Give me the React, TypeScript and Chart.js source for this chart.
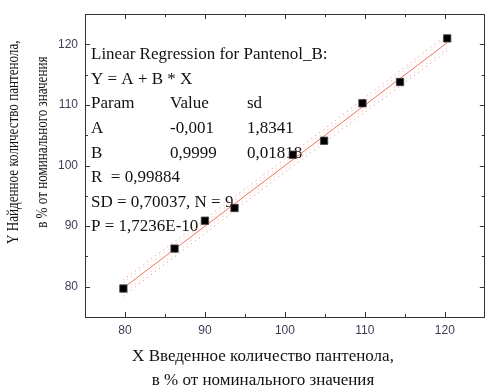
import { useEffect, useRef } from "react";
import { Chart, registerables } from "chart.js";

Chart.register(...registerables);

// Measured pairs: injected vs. found panthenol, % of nominal
const injected = [79.8, 86.2, 90.0, 93.7, 101.0, 104.9, 109.7, 114.4, 120.3];
const found = [79.7, 86.3, 90.9, 93.0, 101.8, 104.1, 110.3, 113.8, 121.0];

// Regression coefficients Y = A + B * X
const interceptA = -0.001;
const slopeB = 0.9999;

// Dotted band curves around the fit
const bandX = [79.8, 90, 100, 110, 120.3];
const innerUpper = [80.7, 90.65, 100.55, 110.65, 121.2];
const innerLower = [78.9, 89.35, 99.45, 109.35, 119.4];
const outerUpper = [81.15, 91.2, 101.1, 111.2, 121.65];
const outerLower = [78.45, 88.8, 98.9, 108.8, 118.95];

// Axes
const axisMin = 75;
const axisMax = 125;
const majorTicks = [80, 90, 100, 110, 120];
const minorTicks = [85, 95, 105, 115];

// Regression report printed inside the plot
const reportRows = [
  ["Linear Regression for Pantenol_B:"],
  ["Y = A + B * X"],
  ["Param", "Value", "sd"],
  ["A", "-0,001", "1,8341"],
  ["B", "0,9999", "0,01818"],
  ["R  = 0,99884"],
  ["SD = 0,70037, N = 9"],
  ["P = 1,7236E-10"],
];

const xTitle = ["X Введенное количество пантенола,", "в % от номинального значения"];
const yTitle = ["Y Найденное количество пантенола,", "в % от номинального значения"];

const serif = '"Liberation Serif", "Times New Roman", serif';
const sans = '"Liberation Sans", Arial, sans-serif';

const toPoints = (xs: number[], ys: number[]) => xs.map((x, i) => ({ x, y: ys[i] }));

const frameAndText = {
  id: "frameAndText",
  beforeDatasetsDraw(chart: any) {
    const { ctx, chartArea } = chart;
    const { left, top } = chartArea;
    ctx.save();
    ctx.fillStyle = "#111";
    ctx.font = `17px ${serif}`;
    ctx.textBaseline = "middle";
    ctx.textAlign = "left";
    const cols = [6, 85, 162];
    reportRows.forEach((row, i) => {
      const y = top + 40.5 + i * 24.6;
      row.forEach((cell, j) => ctx.fillText(cell, left + cols[j], y));
    });
    ctx.restore();
  },
  afterDraw(chart: any) {
    const { ctx, chartArea, scales } = chart;
    const { left, right, top, bottom } = chartArea;
    const xs = scales.x;
    const ys = scales.y;
    ctx.save();
    ctx.strokeStyle = "#333";
    ctx.lineWidth = 1;
    ctx.strokeRect(Math.round(left) + 0.5, Math.round(top) + 0.5, Math.round(right - left) - 1, Math.round(bottom - top));

    const tick = (vals: number[], len: number) => {
      ctx.beginPath();
      vals.forEach((v) => {
        const px = Math.round(xs.getPixelForValue(v)) + 0.5;
        ctx.moveTo(px, bottom);
        ctx.lineTo(px, bottom - len);
        ctx.moveTo(px, top);
        ctx.lineTo(px, top + len);
        const py = Math.round(ys.getPixelForValue(v)) + 0.5;
        ctx.moveTo(left, py);
        ctx.lineTo(left + len, py);
        ctx.moveTo(right, py);
        ctx.lineTo(right - len, py);
      });
      ctx.stroke();
    };
    tick(majorTicks, 5);
    tick(minorTicks, 3);

    // Axis titles
    ctx.fillStyle = "#111";
    ctx.textAlign = "center";
    ctx.textBaseline = "middle";
    ctx.font = `17px ${serif}`;
    xTitle.forEach((t, i) => ctx.fillText(t, left + 178, bottom + 39.5 + i * 24));
    ctx.translate(0, top + 128);
    ctx.rotate(-Math.PI / 2);
    ctx.scale(0.77, 1);
    ctx.font = `17px ${serif}`;
    yTitle.forEach((t, i) => ctx.fillText(t, 0, 14 + i * 28.7));
    ctx.restore();
  },
};

export default function App() {
  const ref = useRef<HTMLCanvasElement | null>(null);

  useEffect(() => {
    if (!ref.current) return;
    const fitEnds = [injected[0], injected[injected.length - 1]];
    const dotted = (data: number[], color: string) => ({
      type: "line" as const,
      data: toPoints(bandX, data),
      borderColor: color,
      borderWidth: 1,
      borderDash: [1, 4],
      pointRadius: 0,
      tension: 0.3,
      fill: false,
    });
    const chart = new Chart(ref.current, {
      type: "scatter",
      data: {
        datasets: [
          {
            type: "scatter",
            data: toPoints(injected, found),
            pointStyle: "rect",
            pointRadius: 5.2,
            backgroundColor: "#000",
            borderColor: "rgba(70,70,70,0.8)",
            borderWidth: 1,
            order: 0,
          },
          {
            type: "line",
            data: toPoints(fitEnds, fitEnds.map((x) => interceptA + slopeB * x)),
            borderColor: "#f0705e",
            borderWidth: 1,
            pointRadius: 0,
            order: 1,
          },
          { ...dotted(innerUpper, "rgba(245,160,150,0.85)"), order: 2 },
          { ...dotted(innerLower, "rgba(245,160,150,0.85)"), order: 2 },
          { ...dotted(outerUpper, "rgba(230,80,70,0.75)"), order: 3 },
          { ...dotted(outerLower, "rgba(230,80,70,0.75)"), order: 3 },
        ] as any,
      },
      options: {
        animation: false,
        responsive: false,
        devicePixelRatio: 1,
        layout: { padding: { top: 13, right: 1, left: 0, bottom: 0 } },
        plugins: { legend: { display: false }, tooltip: { enabled: false } },
        scales: {
          x: {
            type: "linear",
            min: axisMin,
            max: axisMax,
            grid: { display: false, drawTicks: false },
            border: { display: false },
            afterBuildTicks: (s: any) => {
              s.ticks = majorTicks.map((v) => ({ value: v }));
            },
            afterFit: (s: any) => {
              s.height = 68;
            },
            ticks: { padding: 6, color: "#3c3c58", font: { family: sans, size: 12 } },
          },
          y: {
            type: "linear",
            min: axisMin,
            max: axisMax,
            grid: { display: false, drawTicks: false },
            border: { display: false },
            afterBuildTicks: (s: any) => {
              s.ticks = majorTicks.map((v) => ({ value: v }));
            },
            afterFit: (s: any) => {
              s.width = 85;
            },
            ticks: { padding: 7, color: "#3c3c58", font: { family: sans, size: 12 } },
          },
        },
      },
      plugins: [frameAndText],
    });
    return () => chart.destroy();
  }, []);

  return (
    <div style={{ position: "fixed", left: 0, top: 0, width: 491, height: 385, background: "#fff" }}>
      <canvas ref={ref} width={491} height={385} />
    </div>
  );
}
